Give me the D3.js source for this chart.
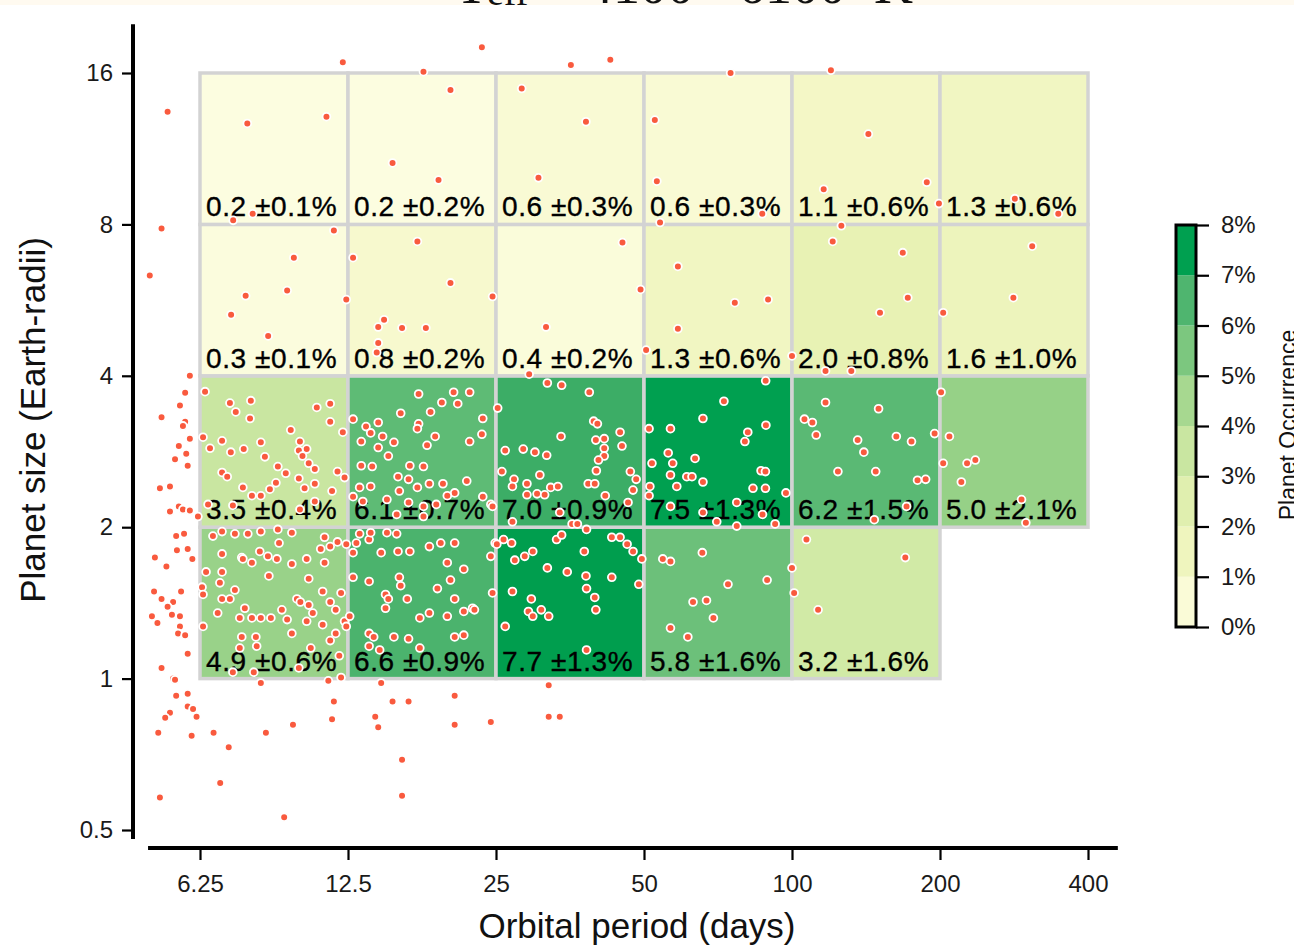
<!DOCTYPE html>
<html>
<head>
<meta charset="utf-8">
<script src="https://cdn.jsdelivr.net/npm/d3@7"></script>
<style>
  html, body { margin: 0; padding: 0; background: #fff; overflow: hidden; }
  svg { display: block; }
</style>
</head>
<body>
<svg id="chart" width="1294" height="948"></svg>
<script>
// ---- Occurrence grid: bins in orbital period (days) and planet radius (Earth radii)
const periodEdges = [6.25, 12.5, 25, 50, 100, 200, 400];
const radiusEdges = [1, 2, 4, 8, 16];

// Occurrence rate (%) per cell, one row per radius bin (bottom to top)
const rates = [
  [4.9, 6.6, 7.7, 5.8, 3.2, null],
  [3.5, 6.1, 7.0, 7.5, 6.2, 5.0],
  [0.3, 0.8, 0.4, 1.3, 2.0, 1.6],
  [0.2, 0.2, 0.6, 0.6, 1.1, 1.3]
];
const errors = [
  [0.6, 0.9, 1.3, 1.6, 1.6, null],
  [0.4, 0.7, 0.9, 1.3, 1.5, 2.1],
  [0.1, 0.2, 0.2, 0.6, 0.8, 1.0],
  [0.1, 0.2, 0.3, 0.3, 0.6, 0.6]
];

// Axis ticks
const periodTicks = [6.25, 12.5, 25, 50, 100, 200, 400];
const periodTickLabels = ["6.25", "12.5", "25", "50", "100", "200", "400"];
const radiusTicks = [0.5, 1, 2, 4, 8, 16];
const radiusTickLabels = ["0.5", "1", "2", "4", "8", "16"];
const colorbarTicks = [0, 1, 2, 3, 4, 5, 6, 7, 8];

// Colour ramp for occurrence (%)
const colorStops = [0, 1, 2, 3, 3.5, 5, 6, 7, 7.5, 8];
const colorValues = ["#fefee6", "#f5f8c8", "#e8f2b4", "#d7eca9", "#c9e6a1",
                     "#96d187", "#62bc77", "#3cad66", "#00a050", "#009c4c"];

// ---- Detected planets: [orbital period (days), radius (Earth radii)]
const largePlanets = [
  [12.2,16.8],[17.8,16.1],[23.4,18.0],[35.5,16.6],[42.7,17.0],[75,16.0],[120,16.2],
  [5.37,13.4],[5.22,7.85],[4.94,6.33],
  [7.8,12.7],[11.3,13.1],[8.0,8.4],[7.3,8.15],[20.2,14.8],[15.4,10.6],[19.1,9.8],
  [28.2,14.9],[38.1,12.8],[30.5,9.9],[52.6,12.9],[53.1,9.75],[87,8.4],[53.9,8.07],
  [143,12.1],[188,9.7],[116,9.4],[199,8.8],[126,7.95],[284,9.0],[348,8.4],
  [11.7,7.78],[9.7,6.87],[7.74,5.77],[9.4,5.91],[7.23,5.29],[8.6,4.8],[12.4,5.67],
  [12.8,6.87],[17.3,7.4],[20.2,6.12],[24.6,5.75],[14.8,5.17],[14.4,5.0],[16.1,4.98],
  [18.0,4.98],[14.4,4.65],[14.3,4.45],[45.2,7.36],[49.2,5.94],[31.6,5.0],[29.2,4.03],
  [50.5,4.5],[58.6,6.6],[76.5,5.59],[89.4,5.67],[58.6,4.96],[100,4.38],[121,7.4],
  [168,7.03],[172,5.72],[151,5.34],[203,5.34],[117,4.09],[132,4.09],[308,7.24],
  [282,5.72],[5.96,4.0]
];

const subNeptunes = [
  // 6.25-12.5 days
  [6.40,3.72],[7.19,3.53],[7.93,3.57],[7.39,3.39],[7.90,3.29],[6.34,3.02],[6.93,2.97],
  [6.55,2.87],[7.22,2.82],[7.67,2.86],[8.31,2.95],[9.56,3.12],[9.98,2.96],[10.3,2.86],
  [9.93,2.84],[10.8,3.46],[11.5,3.52],[11.5,3.24],[12.2,3.09],[8.47,2.76],[9.00,2.64],
  [10.1,2.77],[10.4,2.68],[10.7,2.61],[6.93,2.57],[7.10,2.52],[9.34,2.56],[9.93,2.50],
  [8.92,2.45],[8.67,2.38],[7.64,2.40],[7.97,2.31],[10.2,2.39],[10.7,2.44],[11.6,2.36],
  [11.9,2.58],[12.3,2.51],[8.31,2.31],[6.49,2.22],[7.29,2.21],[10.7,2.25],[9.98,2.17],
  // 12.5-25 days
  [17.4,3.68],[20.5,3.71],[22.1,3.71],[19.4,3.54],[20.9,3.52],[12.8,3.28],[14.4,3.23],
  [16.0,3.37],[18.4,3.39],[23.5,3.29],[17.4,3.21],[17.3,3.14],[13.6,3.17],[13.9,3.08],
  [14.7,3.03],[13.3,2.96],[15.5,2.95],[18.8,3.03],[18.1,2.91],[22.1,2.96],[23.4,3.06],
  [14.4,2.88],[15.1,2.77],[13.3,2.65],[14.0,2.64],[16.7,2.65],[17.8,2.64],[15.8,2.52],
  [16.6,2.49],[17.3,2.40],[18.3,2.44],[19.5,2.44],[20.6,2.34],[21.8,2.47],[23.5,2.30],
  [19.9,2.31],[15.9,2.36],[13.9,2.41],[13.2,2.40],[12.8,2.30],[13.4,2.25],[15.0,2.27],
  [16.6,2.24],[17.8,2.20],[18.9,2.22],[24.4,2.22],[15.7,2.12],[17.8,2.10],[24.6,2.20],
  // 25-50 days
  [31.8,3.87],[34.0,3.83],[38.7,3.71],[25.2,3.45],[39.5,3.25],[40.2,3.21],[33.9,3.03],
  [44.7,3.09],[39.9,2.98],[41.5,3.00],[45.1,2.90],[26.1,2.84],[28.4,2.86],[30.0,2.82],
  [31.7,2.78],[41.5,2.87],[41.5,2.77],[40.4,2.72],[40.0,2.59],[25.7,2.58],[27.2,2.49],
  [27.0,2.41],[28.9,2.44],[30.7,2.54],[32.3,2.40],[33.4,2.41],[38.5,2.44],[39.7,2.44],
  [46.9,2.58],[48.2,2.49],[47.5,2.37],[28.9,2.32],[30.3,2.33],[31.4,2.32],[41.7,2.31],
  [46.4,2.24],[27.0,2.05],[35.7,2.03],[36.6,2.03],[33.7,2.14],
  // 50-100 days
  [51.2,3.14],[56.6,3.14],[65.9,3.29],[72.7,3.56],[88.4,3.91],[81.3,3.09],[80.2,2.96],
  [88.5,3.19],[51.9,2.68],[56.0,2.81],[57.2,2.68],[56.6,2.54],[63.5,2.74],[61.1,2.52],
  [62.6,2.52],[65.9,2.46],[58.3,2.41],[51.4,2.41],[51.2,2.31],[56.6,2.20],[65.9,2.14],
  [86.5,2.59],[88.3,2.58],[83.3,2.39],[88.3,2.39],[97.2,2.34],[77.2,2.24],[87.1,2.12],
  [70.3,2.05],[77.2,2.01],[92.4,2.03],
  // 100-400 days
  [117,3.54],[150,3.44],[106,3.28],[110,3.23],[112,3.05],[136,2.98],[140,2.82],
  [163,3.03],[175,2.96],[195,3.07],[201,3.71],[124,2.58],[148,2.58],[180,2.48],
  [187,2.49],[171,2.20],[147,2.07],[209,3.03],[203,2.68],[227,2.68],[236,2.72],
  [221,2.46],[293,2.27],[299,2.04],
  // shorter than 6.25 days
  [5.83,3.70],[5.69,3.49],[5.22,3.31],[5.83,3.24],[5.77,3.18],[5.96,3.00],[5.66,2.90],
  [5.90,2.65],[5.56,2.73],[5.86,2.80],[5.18,2.39],[5.43,2.41],[5.43,2.15],[5.66,2.20],
  [5.77,2.17],[5.96,2.16],[6.19,2.10]
];

const superEarths = [
  // 6.25-12.5 days
  [6.93,1.96],[7.36,1.94],[6.64,1.92],[7.82,1.94],[8.31,1.96],[9.00,1.98],[9.61,1.95],
  [11.0,1.81],[11.5,1.83],[11.9,1.87],[11.2,1.91],[12.4,1.85],[6.93,1.77],[7.60,1.74],
  [8.27,1.79],[9.05,1.86],[6.43,1.63],[6.93,1.63],[7.64,1.73],[7.97,1.70],[8.59,1.75],
  [8.96,1.73],[9.61,1.69],[10.3,1.73],[11.2,1.70],[6.31,1.52],[6.86,1.55],[7.36,1.50],
  [8.63,1.60],[10.4,1.58],[12.1,1.48],[6.34,1.47],[6.93,1.44],[7.19,1.44],[7.71,1.38],
  [9.84,1.44],[10.0,1.42],[10.4,1.40],[11.1,1.49],[11.5,1.42],[6.79,1.35],[7.53,1.32],
  [7.97,1.32],[8.31,1.32],[8.71,1.32],[9.17,1.37],[9.40,1.31],[10.3,1.30],[10.6,1.35],
  [11.1,1.28],[11.8,1.37],[12.3,1.30],[6.34,1.27],[7.60,1.21],[8.12,1.21],[9.61,1.23],
  [11.5,1.19],[12.0,1.11],[12.6,1.33],[7.53,1.15],[8.15,1.16],[10.5,1.15],[12.4,1.27],
  [11.8,1.23],[7.29,1.03],[8.04,1.03],[9.93,1.05],[12.1,1.005],
  // 12.5-25 days
  [13.0,1.86],[13.8,1.89],[14.6,1.78],[15.8,1.79],[16.7,1.79],[18.3,1.83],[19.3,1.86],
  [15.7,1.94],[15.0,1.95],[13.9,1.95],[13.2,1.94],[12.8,1.78],[20.6,1.86],[21.5,1.65],
  [19.9,1.70],[24.9,1.86],[24.4,1.75],[12.8,1.59],[13.8,1.56],[15.9,1.59],[16.0,1.53],
  [14.9,1.47],[15.1,1.44],[16.5,1.44],[19.0,1.51],[20.2,1.57],[20.6,1.44],[14.9,1.38],
  [17.5,1.32],[18.3,1.35],[19.9,1.33],[21.5,1.36],[22.4,1.38],[24.6,1.48],[13.8,1.23],
  [14.1,1.21],[13.8,1.16],[14.5,1.14],[15.5,1.21],[16.6,1.20],[17.5,1.15],[20.6,1.21],
  [21.5,1.22],[22.6,1.37],
  // 25-50 days
  [25.1,1.85],[25.9,1.89],[26.9,1.86],[27.3,1.72],[28.6,1.75],[29.7,1.79],[33.2,1.89],
  [34.0,1.93],[38.2,1.98],[37.8,1.79],[43.0,1.91],[44.7,1.91],[47.5,1.79],[49.5,1.73],
  [46.2,1.85],[31.8,1.66],[34.9,1.63],[38.1,1.60],[43.0,1.59],[48.8,1.54],[27.0,1.49],
  [38.2,1.51],[39.7,1.45],[29.5,1.44],[29.1,1.36],[30.9,1.37],[32.0,1.33],[29.7,1.33],
  [39.9,1.37],[26.1,1.27],[38.2,1.14],
  // 50-200 days
  [54.6,1.73],[56.6,1.71],[65.7,1.78],[89.0,1.57],[100,1.66],[101,1.48],[74.1,1.54],
  [62.9,1.42],[67.0,1.43],[69.2,1.32],[56.6,1.26],[61.4,1.21],[107,1.89],[170,1.74],
  [113,1.37],
  // shorter than 6.25 days
  [5.59,1.92],[5.80,1.94],[5.61,1.80],[5.90,1.81],[6.03,1.73],[5.06,1.74],[5.34,1.67],
  [5.04,1.49],[5.22,1.44],[5.51,1.42],[5.72,1.49],[5.37,1.39],[5.48,1.34],[5.69,1.33],
  [5.69,1.27],[4.99,1.33],[5.12,1.29],[5.64,1.23],[5.83,1.22],[5.90,1.12],[5.51,1.00],
  [5.22,1.05]
];

const smallPlanets = [
  [5.56,0.995],[5.59,0.925],[5.90,0.933],[5.90,0.88],[6.05,0.87],[5.43,0.855],[5.31,0.836],
  [6.15,0.84],[5.14,0.78],[6.01,0.77],[6.66,0.78],[7.15,0.73],[6.87,0.62],[5.18,0.58],
  [9.27,0.53],[8.31,0.98],[8.51,0.78],[9.66,0.81],[11.4,0.99],[11.7,0.90],[11.6,0.83],
  [14.2,0.84],[14.4,0.80],[14.6,0.98],[15.4,0.90],[16.6,0.90],[20.6,0.925],[20.6,0.81],
  [24.4,0.82],[32.0,0.84],[33.7,0.84],[16.1,0.69],[16.1,0.585],[32.0,0.97]
];

// ---- Layout
const svg = d3.select("#chart");
const FONT = "'Liberation Sans', Arial, Helvetica, sans-serif";

const x = d3.scaleLog().base(2).domain([6.25, 400]).range([200, 1088]);
const y = d3.scaleLog().base(2).domain([0.5, 16]).range([830, 73]);
const xAxisY = 848, yAxisX = 133;
const periodExtent = [4.9, 460], radiusExtent = [0.48, 20];

const color = d3.scaleLinear().domain(colorStops).range(colorValues).clamp(true);

// Top strip with the lower edge of the panel title
svg.append("rect").attr("x", 0).attr("y", 0).attr("width", 1294).attr("height", 5)
  .attr("fill", "#fffaf0");
const title = svg.append("text").attr("y", 3)
  .attr("font-family", "'Liberation Serif', 'Times New Roman', serif")
  .attr("font-size", 54).attr("fill", "#111");
title.append("tspan").attr("x", 455).text("T");
title.append("tspan").attr("x", 487).attr("dy", 2).attr("font-size", 38).text("eff");
title.append("tspan").attr("x", 540).attr("dy", -2).text("=");
title.append("tspan").attr("x", 586).text("4100");
title.append("tspan").attr("x", 700).text("–");
title.append("tspan").attr("x", 738).text("6100");
title.append("tspan").attr("x", 874).text("K");

// ---- Heat-map cells
const cells = [];
rates.forEach((row, ri) => row.forEach((v, ci) => {
  if (v === null) return;
  cells.push({
    p0: periodEdges[ci], p1: periodEdges[ci + 1],
    r0: radiusEdges[ri], r1: radiusEdges[ri + 1],
    rate: v, err: errors[ri][ci]
  });
}));

const gCells = svg.append("g");
gCells.selectAll("rect").data(cells).join("rect")
  .attr("x", d => x(d.p0)).attr("y", d => y(d.r1))
  .attr("width", d => x(d.p1) - x(d.p0)).attr("height", d => y(d.r0) - y(d.r1))
  .attr("fill", d => color(d.rate))
  .attr("stroke", "#d3d3d3").attr("stroke-width", 3.5);

gCells.selectAll("text").data(cells).join("text")
  .attr("x", d => x(d.p0) + 6).attr("y", d => y(d.r0) - 8)
  .attr("font-family", FONT).attr("font-size", 28).attr("letter-spacing", 0.6)
  .attr("fill", "#000").attr("stroke", "#000").attr("stroke-width", 0.35)
  .text(d => `${d.rate.toFixed(1)} \u00B1${d.err.toFixed(1)}%`);

// ---- Planet points
const planets = [].concat(largePlanets, subNeptunes, superEarths, smallPlanets);
svg.append("g").selectAll("circle").data(planets).join("circle")
  .attr("cx", d => x(d[0])).attr("cy", d => y(d[1]))
  .attr("r", 3.9)
  .attr("fill", "#f95a3e").attr("stroke", "#ffffff").attr("stroke-width", 1.8);

// ---- Axes
const xAxis = d3.axisBottom(x).tickValues(periodTicks)
  .tickFormat((d, i) => periodTickLabels[i]).tickSize(12).tickSizeOuter(0).tickPadding(15);
const gx = svg.append("g").attr("transform", `translate(0,${xAxisY})`).call(xAxis);
gx.select(".domain").remove();
gx.append("line").attr("x1", x(periodExtent[0])).attr("x2", x(periodExtent[1]))
  .attr("stroke", "#000").attr("stroke-width", 4);
gx.selectAll(".tick line").attr("stroke", "#000").attr("stroke-width", 2.2);
gx.selectAll(".tick text").attr("font-family", FONT).attr("font-size", 24).attr("fill", "#1a1a1a");

const yAxis = d3.axisLeft(y).tickValues(radiusTicks)
  .tickFormat((d, i) => radiusTickLabels[i]).tickSize(11).tickSizeOuter(0).tickPadding(9);
const gy = svg.append("g").attr("transform", `translate(${yAxisX},0)`).call(yAxis);
gy.select(".domain").remove();
gy.append("line").attr("y1", y(radiusExtent[0])).attr("y2", y(radiusExtent[1]))
  .attr("stroke", "#000").attr("stroke-width", 4);
gy.selectAll(".tick line").attr("stroke", "#000").attr("stroke-width", 2.2);
gy.selectAll(".tick text").attr("font-family", FONT).attr("font-size", 24).attr("fill", "#1a1a1a");

svg.append("text").attr("x", 637).attr("y", 938).attr("text-anchor", "middle")
  .attr("font-family", FONT).attr("font-size", 35).attr("fill", "#111")
  .text("Orbital period (days)");
svg.append("text").attr("transform", "translate(45,420) rotate(-90)")
  .attr("text-anchor", "middle")
  .attr("font-family", FONT).attr("font-size", 35).attr("fill", "#111")
  .text("Planet size (Earth-radii)");

// ---- Colour bar
const cb = d3.scaleLinear().domain([0, 8]).range([627, 225]);
const cbX = 1176, cbW = 20;
const gcb = svg.append("g");
const bands = d3.range(0, 8).map(v => ({ lo: v, hi: v + 1 }));
gcb.selectAll("rect.band").data(bands).join("rect").attr("class", "band")
  .attr("x", cbX).attr("width", cbW)
  .attr("y", d => cb(d.hi)).attr("height", d => cb(d.lo) - cb(d.hi))
  .attr("fill", d => color((d.lo + d.hi) / 2));
gcb.append("rect").attr("x", cbX).attr("y", cb(8)).attr("width", cbW)
  .attr("height", cb(0) - cb(8))
  .attr("fill", "none").attr("stroke", "#000").attr("stroke-width", 3);
const cbAxis = d3.axisRight(cb).tickValues(colorbarTicks)
  .tickFormat(d => d + "%").tickSize(13).tickSizeOuter(0).tickPadding(12);
const gcbAxis = gcb.append("g").attr("transform", `translate(${cbX + cbW},0)`).call(cbAxis);
gcbAxis.select(".domain").remove();
gcbAxis.selectAll(".tick line").attr("stroke", "#000").attr("stroke-width", 2.2);
gcbAxis.selectAll(".tick text").attr("font-family", FONT).attr("font-size", 24).attr("fill", "#1a1a1a");
svg.append("text").attr("transform", "translate(1296,425) rotate(-90)")
  .attr("text-anchor", "middle")
  .attr("font-family", FONT).attr("font-size", 23).attr("fill", "#111")
  .text("Planet Occurrence");
</script>
</body>
</html>
